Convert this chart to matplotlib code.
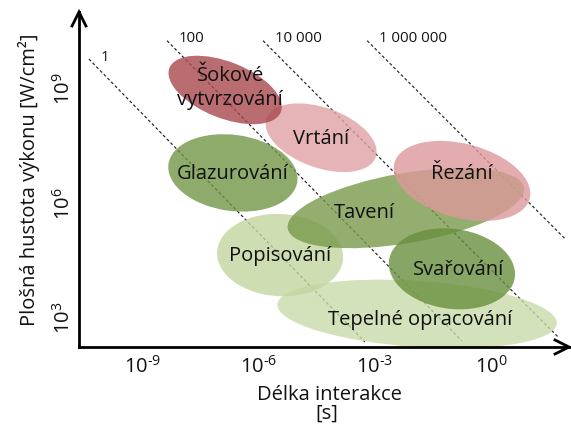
import matplotlib
matplotlib.use("Agg")
import matplotlib.pyplot as plt
from matplotlib.patches import Ellipse

plt.rcParams['font.family'] = ['Open Sans', 'DejaVu Sans']
plt.rcParams['mathtext.fontset'] = 'custom'
plt.rcParams['mathtext.rm'] = 'Open Sans'
plt.rcParams['mathtext.it'] = 'Open Sans:italic'
plt.rcParams['mathtext.bf'] = 'Open Sans:bold'
plt.rcParams['mathtext.default'] = 'regular'

# ---- data (log10 of interaction time [s] and of power density [W/cm2]) ----
processes = ['Tepelné opracování', 'Popisování', 'Tavení', 'Svařování',
             'Glazurování', 'Řezání', 'Vrtání', 'Šokové\nvytvrzování']
log_t_center = [-1.91, -5.45, -2.20, -1.01, -6.67, -0.75, -4.39, -6.87]
log_I_center = [3.08, 4.62, 5.85, 4.26, 6.77, 6.56, 7.69, 8.94]
log_t_span = [7.24, 3.26, 6.20, 3.28, 3.36, 3.62, 3.00, 3.10]
log_I_span = [1.73, 2.15, 1.83, 2.09, 1.99, 1.94, 1.57, 1.47]
tilt_deg = [-4, -3, 10, -8, -8, -15, -20, -22]

energy_labels = ['1', '100', '10 000', '1 000 000']
line_t_start = [-10.39, -8.37, -5.89, -3.20]
line_I_start = [9.75, 10.23, 10.23, 10.23]
line_t_end = [-3.26, -0.75, 1.73, 1.94]
line_I_end = [2.35, 2.37, 2.48, 5.02]

x_ticks = [-9, -6, -3, 0]
y_ticks = [3, 6, 9]
x_label = 'Délka interakce'
x_unit = '[s]'
y_label = 'Plošná hustota výkonu [W/cm²]'

# ---- styles / layout ----
face_colors = ['#c9dba9', '#c3d5a0', '#799a4b', '#698f3d',
               '#729646', '#dd999c', '#e0a1a4', '#a8484d']
label_dx = [0.08, 0.0, -1.08, 0.18, 0.0, 0.0, 0.0, 0.13]
label_dy = [-0.13, 0.0, -0.10, 0.0, 0.0, 0.21, 0.0, 0.08]

W, H = 571, 427
fig = plt.figure(figsize=(W / 100, H / 100), dpi=100)
ax = fig.add_axes([79 / W, 1 - 348 / H, (W - 79) / W, (348 - 13) / H])
ax.set_xlim(-10.646, 2.067)
ax.set_ylim(2.215, 10.98)
ax.patch.set_alpha(0)

for s in ('top', 'right'):
    ax.spines[s].set_visible(False)
for s in ('left', 'bottom'):
    ax.spines[s].set_linewidth(2.0)
    ax.spines[s].set_color('black')

# dashed constant-energy lines
for lab, t0, i0, t1, i1 in zip(energy_labels, line_t_start, line_I_start,
                               line_t_end, line_I_end):
    ax.plot([t0, t1], [i0, i1], color='#222222', lw=0.85,
            linestyle=(0, (2.5, 2.0)), zorder=1, clip_on=False)
    ax.text(t0 + 0.30, i0 + 0.07, lab, ha='left', va='center',
            fontsize=10.8, color='#111111', zorder=5)

# process ellipses
for k, name in enumerate(processes):
    e = Ellipse((log_t_center[k], log_I_center[k]), log_t_span[k],
                log_I_span[k], angle=tilt_deg[k], facecolor=face_colors[k],
                edgecolor='none', alpha=0.8, zorder=2 + k * 0.1)
    ax.add_patch(e)
    ax.text(log_t_center[k] + label_dx[k], log_I_center[k] + label_dy[k],
            name, ha='center', va='center', fontsize=14.5, color='#111111',
            linespacing=1.25, zorder=6)

# ticks
ax.set_xticks(x_ticks)
ax.set_xticklabels([r'$10^{\text{%d}}$' % v for v in x_ticks])
ax.set_yticks(y_ticks)
ax.set_yticklabels([r'$10^{\text{%d}}$' % v for v in y_ticks], rotation=90,
                   va='center')
ax.tick_params(axis='both', length=0, labelsize=14.5, colors='#111111')
ax.tick_params(axis='x', pad=6)
ax.tick_params(axis='y', pad=3)

# arrow heads
ax.plot([-0.0142, 0, 0.0142], [1 - 0.0418, 1, 1 - 0.0418],
        transform=ax.transAxes, color='black', lw=2.0, clip_on=False,
        solid_joinstyle='miter', zorder=7)
ax.plot([0.996 - 0.0285, 0.996, 0.996 - 0.0285], [0.0209, 0, -0.0209],
        transform=ax.transAxes, color='black', lw=2.0, clip_on=False,
        solid_joinstyle='miter', zorder=7)

# axis labels
fig.text(329 / W, 1 - 400 / H, x_label, ha='center', va='baseline',
         fontsize=14.5, color='#111111')
fig.text(327 / W, 1 - 419 / H, x_unit, ha='center', va='baseline',
         fontsize=14.5, color='#111111')
fig.text(35 / W, 1 - 180 / H, y_label, ha='center', va='baseline',
         rotation=90, fontsize=14.5, color='#111111',
         rotation_mode='anchor')

fig.savefig('out.png', dpi=100)
